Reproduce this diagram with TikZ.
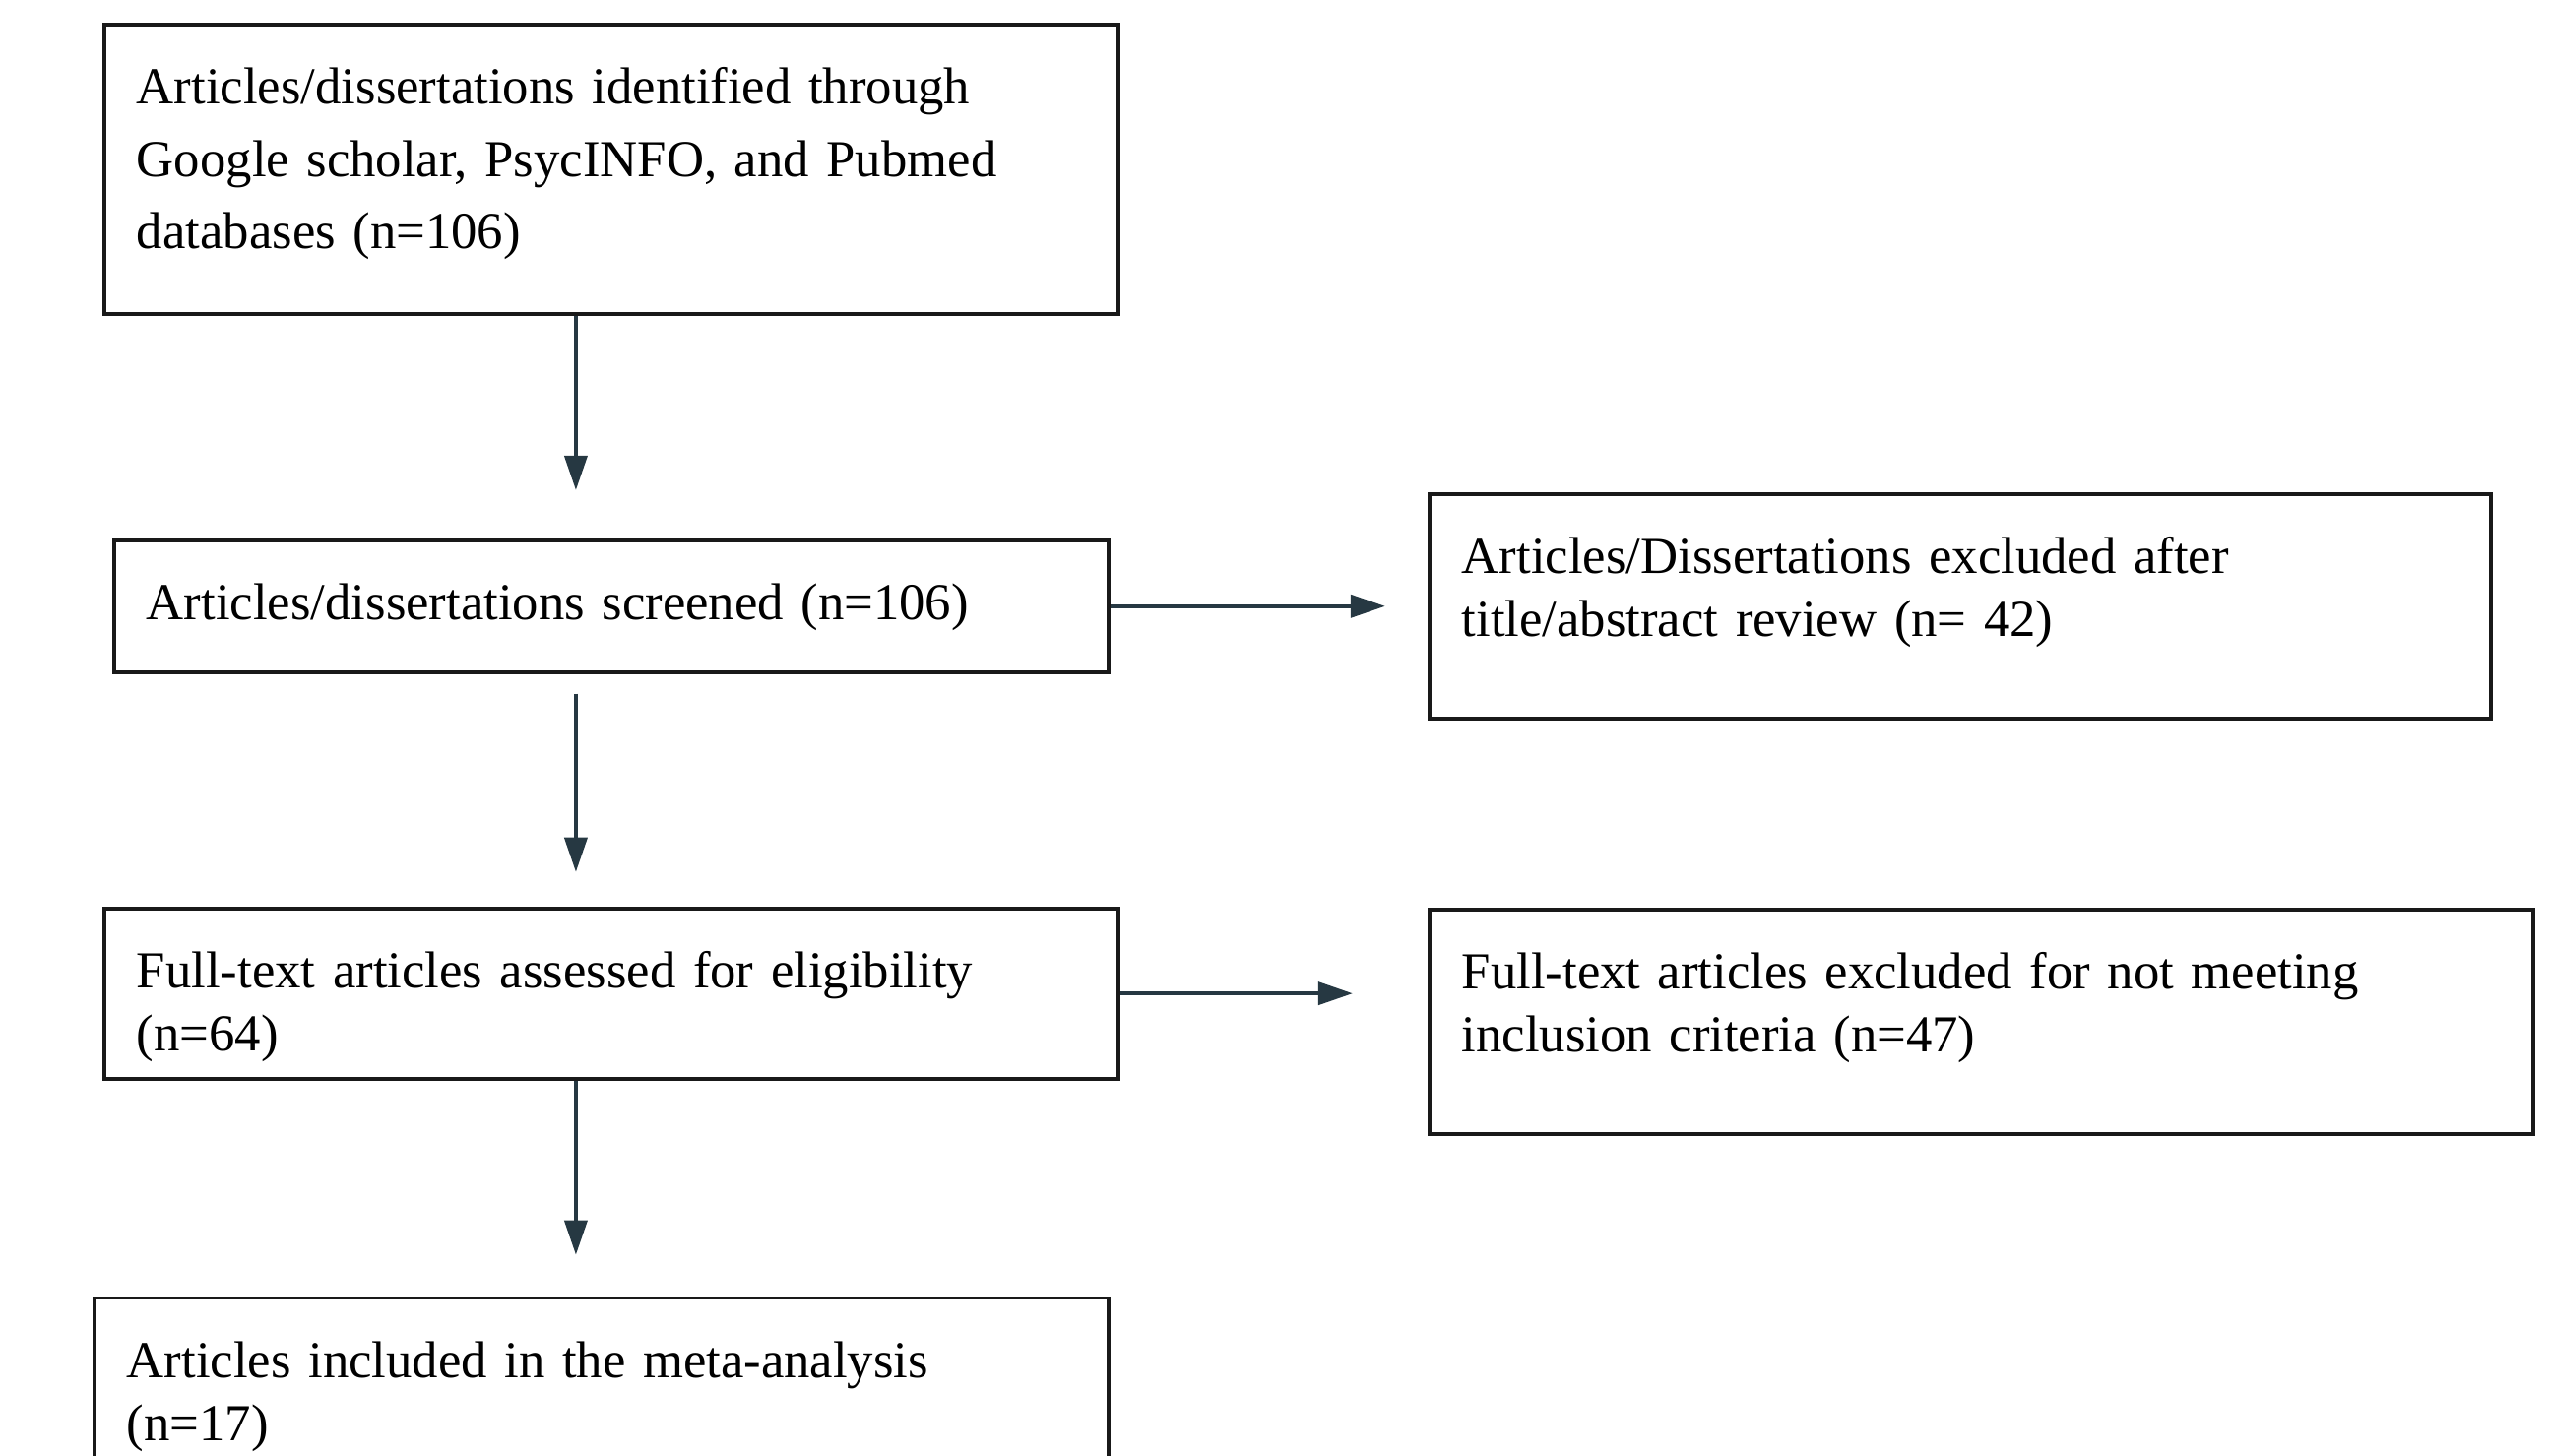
\documentclass[tikz,border=0pt]{standalone}
\usepackage{fontspec}
\setmainfont{Liberation Serif}
\usetikzlibrary{positioning,calc,arrows.meta}
\usepackage{xcolor}
\definecolor{arrowcol}{RGB}{38,56,66}
\definecolor{boxcol}{RGB}{25,25,25}

\begin{document}
\begin{tikzpicture}[>={Triangle[length=3.5mm,width=2.3mm]},main box/.style=
    {rectangle,draw=boxcol,line width=1.1pt,align=left,inner xsep=0.33cm,
    inner ysep=0pt,text height=0.81cm,font=\fontsize{15pt}{18.2pt}\selectfont},
    flow/.style={->,draw=arrowcol,line width=1.1pt}]
    \useasboundingbox (0,0) rectangle (25.89,-14.79);
    % nodes
      \node[main box,anchor=north west,text width=9.64cm,text depth=2.13cm,
        font=\fontsize{15pt}{20.9pt}\selectfont] (ident) at (1.04,-0.23)
        {Articles/dissertations identified through\\Google scholar, PsycINFO, and Pubmed\\databases (n=106)};
      \node[main box,text width=9.44cm,text depth=0.53cm] (screen) [below = 2.26cm of ident]
        {Articles/dissertations screened (n=106)};
      \node[main box,text width=10.12cm,text depth=1.47cm] (excl1) [right = 3.22cm of screen]
        {Articles/Dissertations excluded after\\title/abstract review (n= 42)};
      \node[main box,text width=9.64cm,text depth=0.92cm] (full) [below = 2.36cm of screen]
        {Full-text articles assessed for eligibility\\(n=64)};
      \node[main box,text width=10.55cm,text depth=1.47cm] (excl2) [below = 1.90cm of excl1.south west,anchor=north west]
        {Full-text articles excluded for not meeting\\inclusion criteria (n=47)};
      \node[main box,text width=9.64cm,text depth=0.92cm] (incl) [below = 2.19cm of full,xshift=-0.1cm]
        {Articles included in the meta-analysis\\(n=17)};
      % arrow starts
      \coordinate (s1) at ([xshift=-0.36cm]ident.south);
      \coordinate (s2) at ([xshift=-0.36cm]screen.south);
      \coordinate (s3) at ([xshift=-0.36cm]full.south);
      %edges
      \draw[flow,shorten >=0.49cm] (s1) -- (s1 |- screen.north);
      \draw[flow,shorten >=0.43cm] (screen.east) -- (screen.east -| excl1.west);
      \draw[flow,shorten <=0.2cm,shorten >=0.35cm] (s2) -- (s2 |- full.north);
      \draw[flow,shorten >=0.76cm] (full.east) -- (full.east -| excl2.west);
      \draw[flow,shorten >=0.42cm] (s3) -- (s3 |- incl.north);
\end{tikzpicture}
\end{document}
